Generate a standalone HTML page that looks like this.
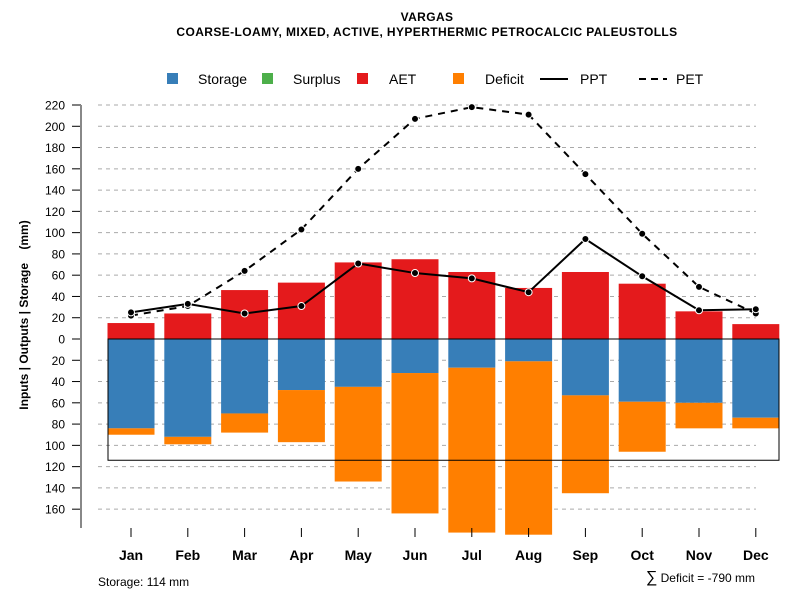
<!DOCTYPE html>
<html><head><meta charset="utf-8"><style>body{margin:0;background:#fff}svg{display:block;font-family:"Liberation Sans",sans-serif}</style></head>
<body>
<svg id="c" width="800" height="600">
<text x="427" y="21" text-anchor="middle" font-size="12" font-weight="bold" letter-spacing="0.4">VARGAS</text>
<text x="427" y="36" text-anchor="middle" font-size="12" font-weight="bold" letter-spacing="0.4">COARSE-LOAMY, MIXED, ACTIVE, HYPERTHERMIC PETROCALCIC PALEUSTOLLS</text>
<g font-size="14">
<rect x="167" y="73" width="11" height="11" fill="#377eb8"/><text x="198" y="84">Storage</text>
<rect x="262" y="73" width="11" height="11" fill="#4daf4a"/><text x="293" y="84">Surplus</text>
<rect x="357" y="73" width="11" height="11" fill="#e41a1c"/><text x="389" y="84">AET</text>
<rect x="453" y="73" width="11" height="11" fill="#ff7f00"/><text x="485" y="84">Deficit</text>
<line x1="540" y1="79" x2="568" y2="79" stroke="#000" stroke-width="2"/><text x="580" y="84">PPT</text>
<line x1="639" y1="79" x2="667" y2="79" stroke="#000" stroke-width="2" stroke-dasharray="7,5"/><text x="676" y="84">PET</text>
</g>
<g id="grid"></g><g id="bars"></g><g id="axes"></g><g id="lines"></g>
<text transform="translate(28,315) rotate(-90)" text-anchor="middle" font-size="12" font-weight="bold" style="white-space:pre">Inputs | Outputs | Storage    (mm)</text>
<text x="98" y="586" font-size="12">Storage: 114 mm</text>
<text x="755" y="582" text-anchor="end" font-size="12"><tspan font-size="16">∑</tspan> Deficit = -790 mm</text>
</svg>
<script>
const months=["Jan","Feb","Mar","Apr","May","Jun","Jul","Aug","Sep","Oct","Nov","Dec"];
const aet=[15,24,46,53,72,75,63,48,63,52,26,14];
const storage=[84,92,70,48,45,32,27,21,53,59,60,74];
const deficit=[6,7,18,49,89,132,155,163,92,47,24,10];
const ppt=[25,33,24,31,71,62,57,44,94,59,27,28];
const pet=[22,31,64,103,160,207,218,211,155,99,49,24];
const yTicks=[220,200,180,160,140,120,100,80,60,40,20,0,-20,-40,-60,-80,-100,-120,-140,-160];
const storageCap=114;
const NS="http://www.w3.org/2000/svg";
const y=v=>339-v*1.0636;
const x=i=>131+i*56.8;
function mk(p,t,a){const e=document.createElementNS(NS,t);for(const k in a)e.setAttribute(k,a[k]);document.getElementById(p).appendChild(e);return e;}
yTicks.forEach(v=>{
 if(v!==0){const g=mk('grid','line',{x1:98,x2:756,y1:y(v),y2:y(v),stroke:'#aaa','stroke-dasharray':'4,4'});
 
 }
 const t=mk('axes','line',{x1:72,x2:81,y1:y(v),y2:y(v),stroke:'#000'});
 
 
 const l=mk('axes','text',{x:65,y:y(v)+4.5,'text-anchor':'end','font-size':12});l.textContent=Math.abs(v);
 
 
});
const ax=mk('axes','line',{x1:81,x2:81,y1:y(220),y2:528,stroke:'#888','stroke-width':2});


months.forEach((m,i)=>{
 const w=47,bx=x(i)-w/2;
 let r=mk('bars','rect',{x:bx,y:y(aet[i]),width:w,height:y(0)-y(aet[i]),fill:'#e41a1c'});
 
 
 r=mk('bars','rect',{x:bx,y:y(0),width:w,height:y(-storage[i])-y(0),fill:'#377eb8'});
 
 
 r=mk('bars','rect',{x:bx,y:y(-storage[i]),width:w,height:y(-storage[i]-deficit[i])-y(-storage[i]),fill:'#ff7f00'});
 
 
 const t=mk('axes','line',{x1:x(i),x2:x(i),y1:528,y2:537,stroke:'#000'});
 
 
 const l=mk('axes','text',{x:x(i),y:560,'text-anchor':'middle','font-size':14,'font-weight':'bold'});l.textContent=m;
 
 
});
const box=mk('bars','rect',{x:108,y:y(0),width:671,height:y(-storageCap)-y(0),fill:'none',stroke:'#000'});


[[pet,'7,6','pet-line','pet-point'],[ppt,'none','ppt-line','ppt-point']].forEach(([d,da,n,pn])=>{
 const p=mk('lines','polyline',{points:d.map((v,i)=>x(i)+','+y(v)).join(' '),fill:'none',stroke:'#000','stroke-width':2,'stroke-dasharray':da});
 
 
 d.forEach((v,i)=>{const c=mk('lines','circle',{cx:x(i),cy:y(v),r:3.5,fill:'#000',stroke:'#fff','stroke-width':1});
 
 });
});
</script>
</body></html>
